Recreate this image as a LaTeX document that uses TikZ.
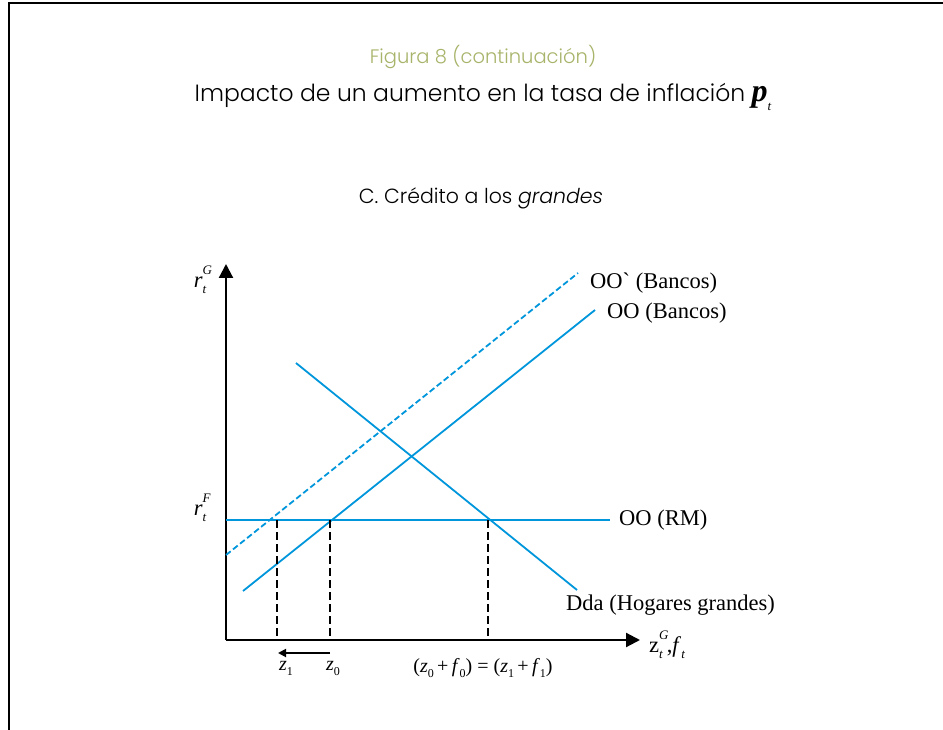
\documentclass[tikz,border=0pt]{standalone}
\usepackage{fontspec}
\setmainfont{Liberation Serif}
\newfontfamily\gothic{Poppins}[UprightFont=* Light, ItalicFont=* Light Italic]
\usetikzlibrary{arrows.meta}
\definecolor{lineblue}{RGB}{0,150,219}
\definecolor{olive}{RGB}{168,180,106}
\newcommand{\rsub}[2]{\rlap{\raisebox{0.55em}{\fontsize{13}{13}\selectfont\itshape #1}}\raisebox{-0.3em}{\fontsize{13}{13}\selectfont\itshape #2}}
\newcommand{\lsub}[1]{\raisebox{-0.25em}{\fontsize{12}{12}\selectfont #1}}
\begin{document}
\begin{tikzpicture}[x=1pt,y=-1pt,
  axisline/.style={line width=2.2pt,black},
  blueline/.style={line width=1.8pt,lineblue},
  bluedash/.style={line width=1.8pt,lineblue,dash pattern=on 6pt off 3pt},
  vdash/.style={line width=1.9pt,black,dash pattern=on 8pt off 4pt},
  lbl/.style={font=\fontsize{22.5}{22.5}\selectfont,inner sep=0pt},
  small/.style={font=\fontsize{20}{20}\selectfont,inner sep=0pt}]
\useasboundingbox (0,0) rectangle (943,730);
\fill[white] (0,0) rectangle (943,730);
% frame
\draw[line width=2pt] (9,730) -- (9,3) -- (943,3);
% titles
\node[inner sep=0pt,text=olive,font=\gothic\fontsize{19.5}{19.5}\selectfont] (fig) at (483,57) {Figura 8 (continuación)};
\node[inner sep=0pt,font=\gothic\fontsize{23.5}{23.5}\selectfont] (title) at (483,97) {Impacto de un aumento en la tasa de inflación {\rmfamily\bfseries\itshape\fontsize{32}{32}\selectfont p}\raisebox{-0.35em}{\rmfamily\fontsize{13}{13}\selectfont\itshape t}};
\node[inner sep=0pt,font=\gothic\fontsize{20.5}{20.5}\selectfont] (sub) at (481,198) {C. Crédito a los \textit{grandes}};
% axes
\coordinate (O) at (226,640);
\coordinate (ytip) at (226,264);
\coordinate (xtip) at (640,640);
\draw[axisline,-{Triangle[length=14pt,width=14pt]}] (O) -- (ytip);
\draw[axisline,-{Triangle[length=14pt,width=14pt]}] (O) -- (xtip);
% lines
\coordinate (rm0) at (226,520); \coordinate (rm1) at (610,520);
\draw[blueline] (rm0) -- (rm1);
\coordinate (b0) at (243,591); \coordinate (b1) at (595,310);
\draw[blueline] (b0) -- (b1);
\coordinate (p0) at (226,555); \coordinate (p1) at (578,273);
\draw[bluedash] (p0) -- (p1);
\coordinate (d0) at (296,363); \coordinate (d1) at (577,590);
\draw[blueline] (d0) -- (d1);
% vertical dashed
\coordinate (v1t) at (277,520); \coordinate (v1b) at (277,640);
\coordinate (v2t) at (330,520); \coordinate (v2b) at (330,640);
\coordinate (v3t) at (488,520); \coordinate (v3b) at (488,640);
\draw[vdash] (v1t) -- (v1b);
\draw[vdash] (v2t) -- (v2b);
\draw[vdash] (v3t) -- (v3b);
% shift arrow
\coordinate (a0) at (330,653); \coordinate (a1) at (278,653);
\draw[line width=1.8pt,-{Triangle[length=8pt,width=8pt]}] (a0) -- (a1);
% labels
\node[lbl] (ry) at (200,280) {\itshape r\rsub{G}{t}};
\node[lbl] (rf) at (200,508) {\itshape r\rsub{F}{t}};
\node[lbl,anchor=west] (xl) at (649,645) {z\rsub{G}{t}\hspace{4pt},\textit{f}\raisebox{-0.3em}{\fontsize{13}{13}\selectfont\itshape t}};
\node[small] (z1) at (286,668) {\textit{z}\lsub{1}};
\node[small] (z0) at (333,668) {\textit{z}\lsub{0}};
\node[small] (eq) at (483,668) {(\textit{z}\lsub{0}\,+\,\textit{f}\lsub{0}) = (\textit{z}\lsub{1}\,+\,\textit{f}\lsub{1})};
\node[lbl,anchor=west] (lp) at (590,283) {OO\textasciigrave\ (Bancos)};
\node[lbl,anchor=west] (lb) at (607,313) {OO (Bancos)};
\node[lbl,anchor=west] (lrm) at (619,520) {OO (RM)};
\node[lbl,anchor=west] (ld) at (566,605) {Dda (Hogares grandes)};
\end{tikzpicture}
\end{document}
